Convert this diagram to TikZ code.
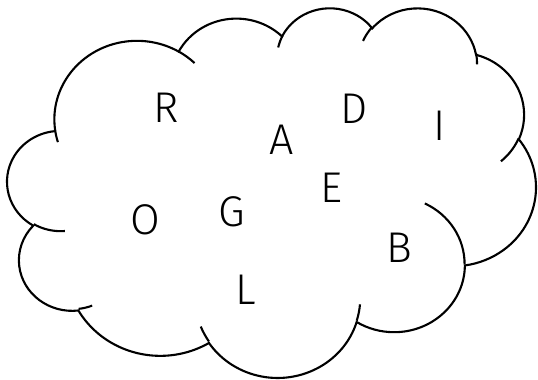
\documentclass[tikz,border=0pt]{standalone}
\usepackage{fontspec}
\setmainfont{Fira Sans}[UprightFont=* Light]
\newcommand\cldprep[5]{%
  \pgfmathsetmacro\cldtmpS{atan2((#2)*sin(#4),(#3)*cos(#4))}%
  \pgfmathsetmacro\cldtmpE{atan2((#2)*sin((#4)+(#5)),(#3)*cos((#4)+(#5)))}%
  \pgfmathsetmacro\cldtmpD{Mod(\cldtmpE-(\cldtmpS),360)}%
  \expandafter\xdef\csname cld#1s\endcsname{\cldtmpS}%
  \expandafter\xdef\csname cld#1d\endcsname{\cldtmpD}%
}
\tikzset{
  cloudline/.style={line width=2.1pt, black},
  letter/.style={font=\fontsize{43}{43}\selectfont, anchor=base, inner sep=0pt}
}
\begin{document}
\begin{tikzpicture}
\useasboundingbox (0,0) rectangle (538pt,380pt);
\fill[white] (0,0) rectangle (538pt,380pt);
% main outline arcs: name, rx, ry, start (visual), sweep
\cldprep{a}{67.53}{91.90}{-190.48748}{123.78053}
\cldprep{b}{53.33}{72.67}{-144.10238}{89.94523}
\cldprep{c}{43.65}{59.45}{-145.80792}{99.72302}
\cldprep{d}{48.57}{65.95}{-130.98607}{117.24173}
\cldprep{e}{53.33}{72.73}{-78.70888}{109.02692}
\cldprep{f}{67.75}{92.20}{-46.26725}{130.269}
\cldprep{g}{57.85}{78.67}{0.62502}{114.03333}
\cldprep{h}{67.52}{92.15}{22.4516}{115.17255}
\cldprep{i}{77.20}{105.43}{66.24263}{75.71102}
\cldprep{j}{43.60}{59.18}{-274.94208}{146.73557}
\cldprep{k}{43.45}{59.45}{-246.8285}{152.51885}
% inner detail arcs
\cldprep{A}{43.45}{59.45}{86.7420}{26.4295}
\cldprep{B}{43.60}{59.18}{73.6105}{11.4475}
\cldprep{C}{67.52}{92.15}{137.6242}{14.0811}
\cldprep{D}{67.52}{92.15}{6.4533}{15.9984}
\cldprep{E}{57.85}{78.67}{-70.2924}{70.9174}
\cldprep{F}{53.33}{72.73}{30.3180}{27.7515}
\cldprep{G}{48.57}{65.95}{-13.7443}{14.8589}
\cldprep{H}{48.57}{65.95}{-149.1815}{18.1954}
\cldprep{I}{43.65}{59.45}{-163.4943}{17.6864}
\cldprep{J}{67.53}{91.90}{-66.7070}{12.3194}
\cldprep{K}{67.53}{91.90}{157.6544}{11.8582}
\begin{scope}[x=1.2230pt,y=-0.8554pt,shift={(7.42pt,372.9pt)}]
\draw[cloudline] (39.00,143.70)
  arc[x radius=67.53, y radius=91.90, start angle=\cldas, delta angle=\cldad]
  arc[x radius=53.33, y radius=72.67, start angle=\cldbs, delta angle=\cldbd]
  arc[x radius=43.65, y radius=59.45, start angle=\cldcs, delta angle=\cldcd]
  arc[x radius=48.57, y radius=65.95, start angle=\cldds, delta angle=\clddd]
  arc[x radius=53.33, y radius=72.73, start angle=\cldes, delta angle=\clded]
  arc[x radius=67.75, y radius=92.20, start angle=\cldfs, delta angle=\cldfd]
  arc[x radius=57.85, y radius=78.67, start angle=\cldgs, delta angle=\cldgd]
  arc[x radius=67.52, y radius=92.15, start angle=\cldhs, delta angle=\cldhd]
  arc[x radius=77.20, y radius=105.43, start angle=\cldis, delta angle=\cldid]
  arc[x radius=43.60, y radius=59.18, start angle=\cldjs, delta angle=\cldjd]
  arc[x radius=43.45, y radius=59.45, start angle=\cldks, delta angle=\cldkd]
  -- cycle;
\draw[cloudline]
  (46.93,261.77) arc[x radius=43.45, y radius=59.45, start angle=\cldAs, delta angle=\cldAd]
  (69.28,348.99) arc[x radius=43.60, y radius=59.18, start angle=\cldBs, delta angle=\cldBd]
  (164.78,390.90) arc[x radius=67.52, y radius=92.15, start angle=\cldCs, delta angle=\cldCd]
  (288.27,347.51) arc[x radius=67.52, y radius=92.15, start angle=\cldDs, delta angle=\cldDd]
  (341.29,229.54) arc[x radius=57.85, y radius=78.67, start angle=\cldEs, delta angle=\cldEd]
  (417.98,153.54) arc[x radius=53.33, y radius=72.73, start angle=\cldFs, delta angle=\cldFd]
  (383.24,54.26) arc[x radius=48.57, y radius=65.95, start angle=\cldGs, delta angle=\cldGd]
  (290.78,39.52) arc[x radius=48.57, y radius=65.95, start angle=\cldHs, delta angle=\cldHd]
  (221.41,47.20) arc[x radius=43.65, y radius=59.45, start angle=\cldIs, delta angle=\cldId]
  (140.00,51.92) arc[x radius=67.53, y radius=91.90, start angle=\cldJs, delta angle=\cldJd]
  (41.27,157.89) arc[x radius=67.53, y radius=91.90, start angle=\cldKs, delta angle=\cldKd];
\end{scope}
\node[letter] (R) at (166pt,257pt) {R};
\node[letter] (D) at (354.5pt,256pt) {D};
\node[letter] (I) at (439.3pt,239.3pt) {I};
\node[letter] (A) at (282pt,225pt) {A};
\node[letter] (E) at (332pt,177pt) {E};
\node[letter] (O) at (145pt,145.5pt) {O};
\node[letter] (G) at (232pt,153.8pt) {G};
\node[letter] (B) at (399pt,117.3pt) {B};
\node[letter] (L) at (246pt,75pt) {L};
\end{tikzpicture}
\end{document}
